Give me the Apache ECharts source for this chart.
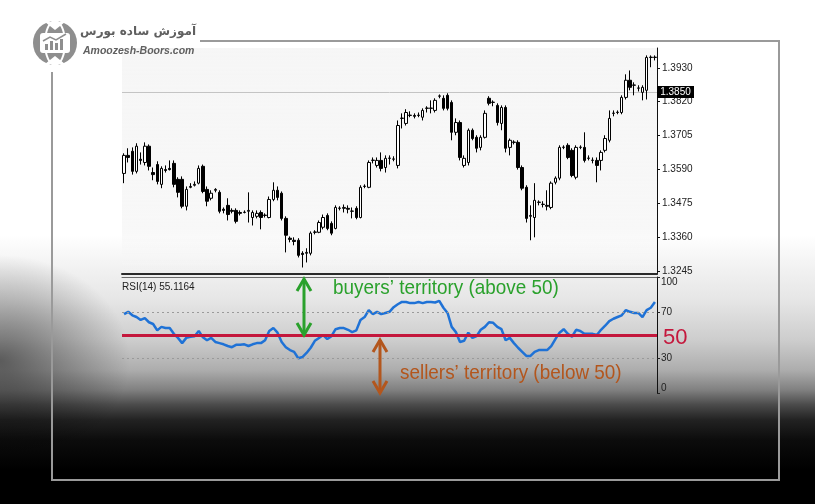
<!DOCTYPE html>
<html>
<head>
<meta charset="utf-8">
<script src="https://cdn.jsdelivr.net/npm/echarts@6/dist/echarts.min.js"></script>
<style>
html,body{margin:0;padding:0;}
body{width:815px;height:504px;overflow:hidden;
background:
 radial-gradient(ellipse 130px 105px at 0px 360px, rgba(0,0,0,0.5), rgba(0,0,0,0)),
 linear-gradient(to bottom,#ffffff 0px,#ffffff 235px,#f1f1f1 270px,#e6e6e6 300px,#cdcdcd 340px,#adadad 370px,#808080 390px,#4a4a4a 405px,#222222 420px,#0c0c0c 440px,#000000 470px,#000000 504px);}
#chart{width:815px;height:504px;}
</style>
</head>
<body>
<div id="chart"></div>
<script>
// ---- data ----
const opens = [1.3576,1.3637,1.3651,1.3583,1.3624,1.3613,1.3668,1.3579,1.3606,1.3539,
1.3589,1.3593,1.3610,1.3556,1.3556,1.3465,1.3529,1.3536,1.3543,1.3600,
1.3522,1.3492,1.3519,1.3512,1.3455,1.3468,1.3451,1.3451,1.3444,1.3444,
1.3448,1.3427,1.3431,1.3444,1.3434,1.3427,1.3488,1.3519,1.3509,1.3424,
1.3357,1.3350,1.3350,1.3306,1.3306,1.3306,1.3377,1.3377,1.3394,1.3434,
1.3407,1.3390,1.3458,1.3458,1.3458,1.3448,1.3458,1.3427,1.3532,1.3529,
1.3620,1.3603,1.3620,1.3596,1.3627,1.3624,1.3603,1.3762,1.3745,1.3772,
1.3772,1.3772,1.3766,1.3796,1.3796,1.3789,1.3837,1.3830,1.3840,1.3816,
1.3715,1.3748,1.3603,1.3613,1.3722,1.3698,1.3664,1.3698,1.3830,1.3816,
1.3806,1.3745,1.3799,1.3664,1.3681,1.3681,1.3596,1.3529,1.3431,1.3427,
1.3478,1.3471,1.3468,1.3461,1.3546,1.3560,1.3664,1.3671,1.3654,1.3563,
1.3664,1.3664,1.3627,1.3620,1.3620,1.3620,1.3654,1.3688,1.3779,1.3782,
1.3782,1.3833,1.3891,1.3874,1.3864,1.3850,1.3857,1.3968,1.3968];
const closes = [1.3637,1.3630,1.3583,1.3668,1.3620,1.3668,1.3600,1.3572,1.3549,1.3593,
1.3586,1.3589,1.3539,1.3512,1.3465,1.3522,1.3532,1.3539,1.3593,1.3515,
1.3482,1.3509,1.3522,1.3448,1.3451,1.3437,1.3448,1.3414,1.3441,1.3445,
1.3451,1.3444,1.3441,1.3427,1.3435,1.3488,1.3519,1.3495,1.3424,1.3367,
1.3353,1.3346,1.3299,1.3302,1.3309,1.3374,1.3378,1.3410,1.3427,1.3390,
1.3374,1.3461,1.3459,1.3461,1.3455,1.3449,1.3427,1.3529,1.3533,1.3613,
1.3621,1.3620,1.3593,1.3627,1.3628,1.3625,1.3738,1.3763,1.3782,1.3773,
1.3769,1.3773,1.3789,1.3797,1.3797,1.3823,1.3838,1.3796,1.3796,1.3715,
1.3748,1.3630,1.3627,1.3722,1.3694,1.3661,1.3698,1.3779,1.3813,1.3817,
1.3748,1.3799,1.3661,1.3688,1.3682,1.3596,1.3526,1.3424,1.3434,1.3485,
1.3479,1.3472,1.3465,1.3543,1.3560,1.3664,1.3665,1.3630,1.3569,1.3664,
1.3665,1.3620,1.3628,1.3621,1.3603,1.3647,1.3694,1.3762,1.3780,1.3783,
1.3833,1.3891,1.3867,1.3875,1.3865,1.3867,1.3968,1.3969,1.3969];
const lows = [1.3543,1.3613,1.3572,1.3576,1.3606,1.3603,1.3586,1.3553,1.3539,1.3526,
1.3579,1.3586,1.3529,1.3495,1.3458,1.3451,1.3526,1.3532,1.3539,1.3509,
1.3465,1.3485,1.3512,1.3441,1.3441,1.3417,1.3441,1.3407,1.3434,1.3441,
1.3410,1.3400,1.3424,1.3387,1.3427,1.3424,1.3482,1.3485,1.3417,1.3309,
1.3343,1.3333,1.3292,1.3258,1.3275,1.3299,1.3370,1.3374,1.3387,1.3384,
1.3367,1.3387,1.3451,1.3444,1.3441,1.3424,1.3421,1.3424,1.3526,1.3526,
1.3610,1.3596,1.3583,1.3579,1.3606,1.3617,1.3593,1.3728,1.3738,1.3766,
1.3762,1.3766,1.3755,1.3782,1.3779,1.3782,1.3830,1.3789,1.3789,1.3688,
1.3705,1.3620,1.3596,1.3603,1.3688,1.3647,1.3654,1.3694,1.3806,1.3803,
1.3738,1.3722,1.3647,1.3637,1.3674,1.3589,1.3519,1.3410,1.3350,1.3360,
1.3468,1.3461,1.3451,1.3455,1.3539,1.3553,1.3658,1.3624,1.3563,1.3556,
1.3658,1.3613,1.3620,1.3610,1.3546,1.3586,1.3647,1.3681,1.3769,1.3776,
1.3776,1.3826,1.3857,1.3840,1.3853,1.3823,1.3826,1.3935,1.3958];
const highs = [1.3644,1.3661,1.3664,1.3678,1.3647,1.3681,1.3674,1.3596,1.3617,1.3600,
1.3603,1.3620,1.3620,1.3563,1.3566,1.3532,1.3543,1.3549,1.3603,1.3606,
1.3532,1.3519,1.3526,1.3519,1.3461,1.3492,1.3458,1.3458,1.3451,1.3451,
1.3512,1.3451,1.3451,1.3451,1.3441,1.3498,1.3546,1.3532,1.3515,1.3431,
1.3363,1.3360,1.3357,1.3313,1.3323,1.3380,1.3384,1.3417,1.3437,1.3441,
1.3414,1.3468,1.3465,1.3471,1.3468,1.3461,1.3465,1.3536,1.3539,1.3620,
1.3630,1.3630,1.3647,1.3637,1.3637,1.3634,1.3755,1.3779,1.3793,1.3786,
1.3779,1.3782,1.3796,1.3803,1.3823,1.3830,1.3843,1.3840,1.3847,1.3823,
1.3762,1.3755,1.3637,1.3728,1.3728,1.3705,1.3705,1.3789,1.3837,1.3823,
1.3813,1.3806,1.3806,1.3694,1.3688,1.3688,1.3603,1.3536,1.3468,1.3543,
1.3485,1.3482,1.3519,1.3549,1.3566,1.3671,1.3671,1.3678,1.3661,1.3671,
1.3671,1.3715,1.3637,1.3630,1.3630,1.3654,1.3705,1.3789,1.3789,1.3789,
1.3840,1.3911,1.3924,1.3884,1.3874,1.3874,1.3975,1.3975,1.3975];
const rsiValues = [68,70,67,65.5,63,64.5,61,59.5,54,57,
56,56,51,47.5,43,47.5,48.5,49,53.5,48,
45.5,47.5,44,43,42,40.5,39.5,41.5,41.5,42,
40.5,42,43,43,45.5,53.5,56,52,44,39.5,
37,35.5,30,31,34.5,39,45,47.5,50,46.5,
49,55,56,56,54.5,52.5,54,63,65.5,71.5,
68,70,68,69,70,74,76.5,78.5,78.5,77.5,
77.5,78.5,77.5,78.5,78.5,78,79.5,73.5,69,57,
52.5,44,45,52,47.5,49,54.5,57,61,60.5,
57,55,45.5,47.5,43,39,35.5,32,32,35.5,
37,37,37,40.5,46.5,52,55,51,48.5,54.5,
53.5,51,51,51,50,54.5,58,62,64,65.5,
67,71.5,70,69,69,65.5,71.5,73.5,78.5];
const priceTicks = [1.3245,1.3360,1.3475,1.3590,1.3705,1.3820,1.3930];
const rsiTicks = [0,30,70,100];
const rsiLevels = [30,70];
const midLevel = 50;
const currentPrice = 1.3850;
const rsiTitle = 'RSI(14) 55.1164';
const buyersText = 'buyers\u2019 territory (above 50)';
const sellersText = 'sellers\u2019 territory (below 50)';
const brandFa = 'آموزش ساده بورس';
const brandEn = 'Amoozesh-Boors.com';

const categories = opens.map((_, i) => String(i + 1));
const ohlc = opens.map((o, i) => [o, closes[i], lows[i], highs[i]]);

const chart = echarts.init(document.getElementById('chart'), null, {renderer: 'canvas'});
const green = '#2aa12c', brown = '#b3561d', red = '#c4173c';
const frameColor = '#9a9a9a';
const FONT = '"Liberation Sans", Arial, sans-serif';
const LG = (stops) => new echarts.graphic.LinearGradient(0, 0, 0, 1, stops);

const option = {
  animation: false,
  backgroundColor: 'transparent',
  textStyle: {fontFamily: FONT},
  grid: [
    {left: 122, right: 158, top: 48, height: 226, show: false},
    {left: 122, right: 158, top: 277, height: 116, show: false}
  ],
  xAxis: [
    {type: 'category', gridIndex: 0, data: categories, boundaryGap: true,
     axisLine: {show: true, onZero: false, lineStyle: {color: '#2a2a2a', width: 2}},
     axisTick: {show: false}, axisLabel: {show: false}, splitLine: {show: false}},
    {type: 'category', gridIndex: 1, data: categories, boundaryGap: true, position: 'top',
     axisLine: {show: true, onZero: false, lineStyle: {color: '#6a6a6a', width: 1}},
     axisTick: {show: false}, axisLabel: {show: false}, splitLine: {show: false}}
  ],
  yAxis: [
    {type: 'value', gridIndex: 0, position: 'right', min: 1.3236, max: 1.4000,
     axisLine: {show: true, lineStyle: {color: '#111', width: 1}},
     axisTick: {show: true, length: 3, customValues: priceTicks, lineStyle: {color: '#111'}},
     axisLabel: {show: true, customValues: priceTicks, margin: 5, color: '#222', fontSize: 10,
       fontFamily: FONT, formatter: v => v.toFixed(4)},
     splitLine: {show: false}},
    {type: 'value', gridIndex: 1, position: 'right', min: 0, max: 100,
     axisLine: {show: true, lineStyle: {color: '#111', width: 1}},
     axisTick: {show: true, length: 3, customValues: rsiTicks, lineStyle: {color: '#222'}},
     axisLabel: {show: true, customValues: rsiTicks, margin: 4, color: '#222', fontSize: 10,
       fontFamily: FONT, verticalAlignMaxLabel: 'top', verticalAlignMinLabel: 'bottom'},
     splitLine: {show: false}}
  ],
  series: [
    {type: 'candlestick', xAxisIndex: 0, yAxisIndex: 0, data: ohlc, barWidth: 3, z: 3,
     itemStyle: {color: '#ffffff', color0: '#000000', borderColor: '#000000', borderColor0: '#000000', borderWidth: 1}},
    {type: 'line', xAxisIndex: 1, yAxisIndex: 1, data: rsiValues, showSymbol: false, symbol: 'none',
     lineStyle: {color: '#1f72d6', width: 2.5}, z: 3,
     markLine: {silent: true, symbol: ['none', 'none'], animation: false, label: {show: false},
       data: rsiLevels.map(v => ({yAxis: v, lineStyle: {color: '#9a9a9a', width: 1, type: [2, 3]}}))
         .concat([{yAxis: midLevel, lineStyle: {color: red, width: 3, type: 'solid'}}])}}
  ],
  graphic: [
    // main panel background (very light)
    {type: 'rect', silent: true, z: -10, shape: {x: 122, y: 48, width: 535, height: 226},
     style: {fill: LG([{offset: 0, color: 'rgba(246,246,246,1)'}, {offset: 0.8, color: 'rgba(246,246,246,0.8)'}, {offset: 1, color: 'rgba(246,246,246,0)'}])}},
    // frame
    {type: 'polyline', silent: true, shape: {points: [[200, 41], [779, 41], [779, 480], [52, 480], [52, 72]]},
     style: {stroke: frameColor, lineWidth: 2, fill: null}},
    // logo globe
    {type: 'circle', silent: true, shape: {cx: 55, cy: 43, r: 22}, style: {fill: '#8e8e8e'}},
    {type: 'ellipse', silent: true, shape: {cx: 55, cy: 43, rx: 10, ry: 22}, style: {fill: null, stroke: '#ffffff', lineWidth: 2}},
    {type: 'polygon', silent: true, shape: {points: [[45, 22], [65, 22], [55, 30]]}, style: {fill: '#ffffff'}},
    {type: 'polygon', silent: true, shape: {points: [[45, 64], [65, 64], [55, 56]]}, style: {fill: '#ffffff'}},
    {type: 'rect', silent: true, shape: {x: 40, y: 33, width: 30, height: 20, r: 3}, style: {fill: '#ffffff'}},
    {type: 'rect', silent: true, shape: {x: 45, y: 44, width: 3, height: 6}, style: {fill: '#8e8e8e'}},
    {type: 'rect', silent: true, shape: {x: 50, y: 41, width: 3, height: 9}, style: {fill: '#8e8e8e'}},
    {type: 'rect', silent: true, shape: {x: 55, y: 43, width: 3, height: 7}, style: {fill: '#8e8e8e'}},
    {type: 'rect', silent: true, shape: {x: 60, y: 39, width: 3, height: 11}, style: {fill: '#8e8e8e'}},
    {type: 'polyline', silent: true, shape: {points: [[43, 41], [50, 37], [56, 40], [66, 34]]}, style: {stroke: '#8e8e8e', lineWidth: 1.5, fill: null}},
    {type: 'text', silent: true, x: 196, y: 32,
     style: {text: brandFa, fill: '#606060', font: 'bold 12px "DejaVu Sans", sans-serif', textAlign: 'right', textVerticalAlign: 'middle'}},
    {type: 'text', silent: true, x: 83, y: 51,
     style: {text: brandEn, fill: '#606060', font: 'italic bold 10.5px ' + FONT, textAlign: 'left', textVerticalAlign: 'middle'}},
    // RSI caption
    {type: 'text', silent: true, x: 122, y: 287, z: 10,
     style: {text: rsiTitle, fill: '#222222', font: '10px ' + FONT, textVerticalAlign: 'middle'}},
    // green double arrow
    {type: 'polyline', silent: true, z: 20, shape: {points: [[304, 279], [304, 335]]}, style: {stroke: green, lineWidth: 3, fill: null}},
    {type: 'polyline', silent: true, z: 20, shape: {points: [[297, 291], [304, 279], [311, 291]]}, style: {stroke: green, lineWidth: 3, fill: null}},
    {type: 'polyline', silent: true, z: 20, shape: {points: [[297, 323], [304, 335], [311, 323]]}, style: {stroke: green, lineWidth: 3, fill: null}},
    // brown double arrow
    {type: 'polyline', silent: true, z: 20, shape: {points: [[380, 340], [380, 393]]}, style: {stroke: brown, lineWidth: 3, fill: null}},
    {type: 'polyline', silent: true, z: 20, shape: {points: [[373, 352], [380, 340], [387, 352]]}, style: {stroke: brown, lineWidth: 3, fill: null}},
    {type: 'polyline', silent: true, z: 20, shape: {points: [[373, 381], [380, 393], [387, 381]]}, style: {stroke: brown, lineWidth: 3, fill: null}},
    // annotations
    {type: 'text', silent: true, z: 20, x: 333, y: 288, scaleX: 0.9,
     style: {text: buyersText, fill: green, font: '21px ' + FONT, textVerticalAlign: 'middle'}},
    {type: 'text', silent: true, z: 20, x: 400, y: 373, scaleX: 0.9,
     style: {text: sellersText, fill: brown, font: '21px ' + FONT, textVerticalAlign: 'middle'}},
    {type: 'text', silent: true, z: 20, x: 663, y: 338,
     style: {text: String(midLevel), fill: red, font: '22px ' + FONT, textVerticalAlign: 'middle'}}
  ]
};
chart.setOption(option);

// current-price line and marker, positioned through the price axis
const py = Math.round(chart.convertToPixel({yAxisIndex: 0}, currentPrice));
chart.setOption({graphic: [
  {type: 'line', id: 'priceLine', silent: true, z: 1, shape: {x1: 122, y1: py + 0.5, x2: 657, y2: py + 0.5},
   style: {stroke: '#c4c4c4', lineWidth: 1}},
  {type: 'rect', id: 'priceBox', silent: true, z: 30, shape: {x: 657, y: py - 6, width: 37, height: 12},
   style: {fill: '#000000'}},
  {type: 'text', id: 'priceTxt', silent: true, z: 31, x: 675.5, y: py,
   style: {text: currentPrice.toFixed(4), fill: '#ffffff', font: '10px ' + FONT, textAlign: 'center', textVerticalAlign: 'middle'}}
]});
</script>
</body>
</html>
